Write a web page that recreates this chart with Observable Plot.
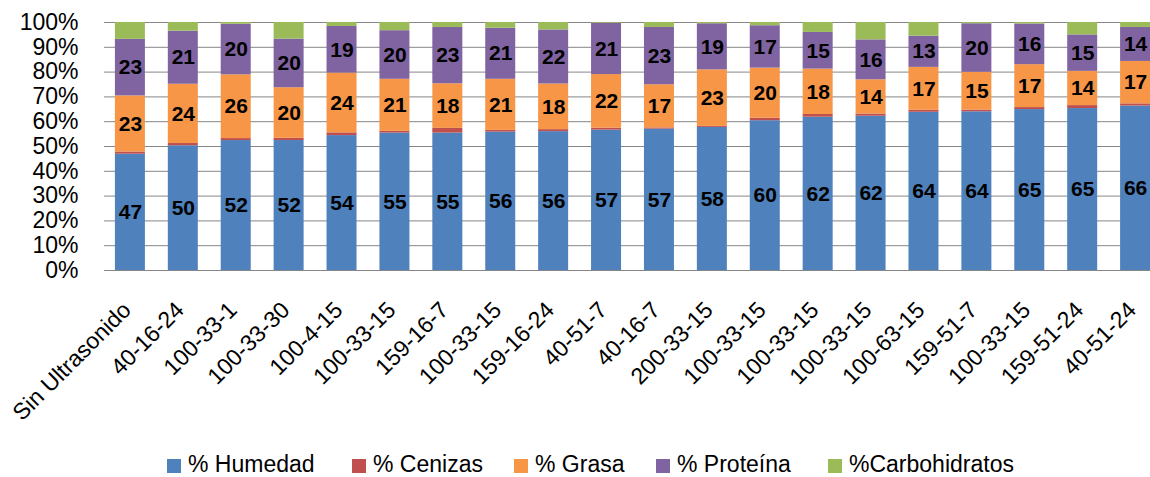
<!DOCTYPE html>
<html>
<head>
<meta charset="utf-8">
<script src="https://cdn.jsdelivr.net/npm/d3@7"></script>
<script src="https://cdn.jsdelivr.net/npm/@observablehq/plot@0.6"></script>
<style>
  html, body { margin: 0; padding: 0; background: #fff; overflow: hidden; }
  body { font-family: "Liberation Sans", Arial, sans-serif; width: 1150px; }
  #chart svg { overflow: hidden; display: block; }
  #legend { position: relative; height: 29px; width: 1150px; font-size: 23px; color: #000; }
  #legend .sw { position: absolute; top: 11px; width: 14px; height: 14px; }
  #legend .lb { position: absolute; top: 5px; line-height: 23px; white-space: nowrap; }
</style>
</head>
<body>
<div id="chart"></div>
<div id="legend"></div>
<script>
const categories = ["Sin Ultrasonido", "40-16-24", "100-33-1", "100-33-30", "100-4-15", "100-33-15", "159-16-7", "100-33-15", "159-16-24", "40-51-7", "40-16-7", "200-33-15", "100-33-15", "100-33-15", "100-33-15", "100-63-15", "159-51-7", "100-33-15", "159-51-24", "40-51-24"];
const series = ["% Humedad", "% Cenizas", "% Grasa", "% Proteína", "%Carbohidratos"];
const colors = ["#4F81BD", "#C0504D", "#F79646", "#8064A2", "#9BBB59"];
const labeledSeries = ["% Humedad", "% Grasa", "% Proteína"];

const humedad = [46.9, 50.3, 52.4, 52.4, 54.4, 55.4, 55.4, 55.8, 56.0, 56.6, 57.0, 57.7, 60.4, 61.8, 62.2, 63.8, 64.0, 64.9, 65.3, 66.3];
const cenizas = [0.9, 0.9, 0.8, 0.9, 1.1, 0.7, 1.9, 0.7, 0.8, 0.8, 0.5, 0.4, 1.0, 1.1, 0.9, 0.8, 0.7, 0.8, 1.2, 0.9];
const grasa = [22.6, 23.9, 25.7, 20.4, 24.1, 21.0, 18.0, 20.6, 18.4, 21.6, 17.4, 22.8, 20.2, 18.3, 13.8, 17.3, 15.2, 17.3, 13.8, 17.1];
const proteina = [22.8, 21.4, 20.4, 19.6, 18.8, 19.6, 22.7, 20.6, 21.8, 20.7, 23.1, 18.6, 17.1, 14.8, 16.1, 12.6, 19.6, 16.4, 14.7, 13.7];
const carbohidratos = [6.8, 3.5, 0.7, 6.7, 1.6, 3.3, 2.0, 2.3, 3.0, 0.3, 2.0, 0.5, 1.3, 4.0, 7.0, 5.5, 0.5, 0.6, 5.0, 2.0];

const yTicks = [0, 10, 20, 30, 40, 50, 60, 70, 80, 90, 100];

const seriesValues = [humedad, cenizas, grasa, proteina, carbohidratos];
const rows = [];
seriesValues.forEach((vals, s) => {
  vals.forEach((v, i) => {
    rows.push({
      i,
      serie: series[s],
      value: v,
      label: labeledSeries.includes(series[s]) ? String(Math.round(v)) : ""
    });
  });
});

const chart = Plot.plot({
  width: 1150,
  height: 448,
  marginTop: 22,
  marginBottom: 178,
  marginLeft: 110,
  marginRight: 0,
  style: { fontFamily: "Liberation Sans, Arial, sans-serif", fontSize: "23px", background: "#fff", color: "#000", overflow: "hidden" },
  x: { type: "band", domain: d3.range(categories.length), range: [92, 1173], padding: 0.433, round: false, axis: null },
  y: { domain: [0, 100], axis: null },
  color: { domain: series, range: colors },
  marks: [
    Plot.ruleY(yTicks, { stroke: "#868686", strokeWidth: 1 }),
    Plot.barY(rows, Plot.stackY({ x: "i", y: "value", z: "serie", fill: "serie" })),
    Plot.text(rows, Plot.stackY({ x: "i", y: "value", z: "serie", text: "label", fontWeight: "bold", fontSize: 21, fill: "#000" })),
    Plot.axisY({ ticks: yTicks, tickFormat: d => d + "%", tickSize: 6, tickPadding: 26, stroke: "#868686", fill: "#000", fontSize: 23, label: null }),
    Plot.text(categories, { x: (d, i) => i, frameAnchor: "bottom", text: d => d, rotate: -45, textAnchor: "end", lineAnchor: "bottom", dx: 2, dy: 41, fontSize: 23, fill: "#000" })
  ]
});
document.getElementById("chart").appendChild(chart);

const legendX = [167, 352, 514, 656, 828];
const legend = document.getElementById("legend");
series.forEach((s, k) => {
  const sw = document.createElement("div");
  sw.className = "sw";
  sw.style.left = legendX[k] + "px";
  sw.style.background = colors[k];
  legend.appendChild(sw);
  const lb = document.createElement("div");
  lb.className = "lb";
  lb.style.left = (legendX[k] + 21) + "px";
  lb.textContent = s;
  legend.appendChild(lb);
});
</script>
</body>
</html>
